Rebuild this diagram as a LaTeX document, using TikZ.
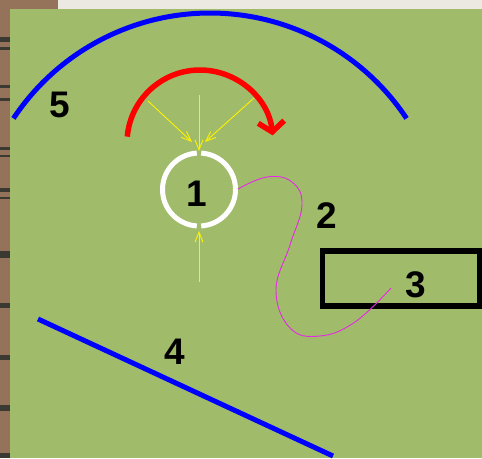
\documentclass[tikz,border=0pt]{standalone}
\usepackage{fontspec}
\setmainfont{Liberation Sans}
\usetikzlibrary{arrows.meta}
\definecolor{grass}{RGB}{160,188,106}
\definecolor{wood}{RGB}{148,115,90}
\definecolor{paper}{RGB}{236,232,226}
\definecolor{darkmark}{RGB}{58,58,50}
\definecolor{pinkline}{RGB}{230,40,230}
\tikzset{
  lbl/.style={font=\fontsize{37}{37}\selectfont\bfseries, inner sep=0pt},
  bluestroke/.style={draw=blue, line width=5pt},
  yarrow/.style={draw=yellow, line width=0.9pt, -{Straight Barb[length=10pt,width=8pt]}},
}
\begin{document}
\begin{tikzpicture}[x=1pt,y=-1pt]
\useasboundingbox (0,0) rectangle (482,458);
% backgrounds
\fill[wood] (0,0) rectangle (482,458);
\fill[paper] (58,0) rectangle (482,9);
\fill[grass] (10,9) rectangle (482,458);
\foreach \a/\b in {37/42,47/50,85/88,98/101,147/150,155/157,188/192,197/199,251/258,303/308,355/360,405/411,453/458}
  \fill[darkmark] (0,\a) rectangle (10,\b);
% arc 5
\coordinate (c5) at (210,249);
\draw[bluestroke] (c5) ++(-146.4:236) arc[start angle=-146.4, end angle=-33.6, radius=236];
% line 4
\coordinate (l4a) at (38,319);
\coordinate (l4b) at (333,456);
\draw[bluestroke] (l4a) -- (l4b);
% red arc
\coordinate (cr) at (200,143);
\draw[red, line width=5.5pt, -{Straight Barb[length=10pt,width=26pt]}] (cr) ++(-175:73) arc[start angle=-175, end angle=-6, radius=73];
% circle 1 with gaps
\coordinate (c1) at (199,189.5);
\draw[white, line width=5pt] (c1) ++(-86.5:36.5) arc[start angle=-86.5, end angle=86.5, radius=36.5];
\draw[white, line width=5pt] (c1) ++(-93.5:36.5) arc[start angle=-93.5, end angle=-266.5, radius=36.5];
\node[lbl] (n1) at (197,194) {1};
% yellow arrows
\coordinate (y1a) at (148,101); \coordinate (y1b) at (192,142);
\coordinate (y2a) at (199,95);  \coordinate (y2b) at (199,151);
\coordinate (y3a) at (254,98);  \coordinate (y3b) at (205,142);
\coordinate (y4a) at (199,282); \coordinate (y4b) at (199,231);
\draw[yarrow] (y1a) -- (y1b);
\draw[yarrow] (y2a) -- (y2b);
\draw[yarrow] (y3a) -- (y3b);
\draw[yarrow] (y4a) -- (y4b);
% rectangle 3
\node[draw=black, line width=5.5pt, minimum width=157pt, minimum height=55pt, inner sep=0pt] (box) at (401,278.5) {};
\node[lbl] (n3) at (416,285) {3};
% magenta curve
\coordinate (m0) at (238,189);
\coordinate (m1) at (391,288);
\draw[pinkline, line width=0.9pt] plot[smooth, tension=0.7] coordinates {(238,189) (267,177) (292,182) (302,205) (290,245) (276,290) (290,328) (320,336) (355,322) (391,288)};
% labels
\node[lbl] (n2) at (327,215.5) {2};
\node[lbl] (n4) at (175,352) {4};
\node[lbl] (n5) at (60,105) {5};
\end{tikzpicture}
\end{document}
